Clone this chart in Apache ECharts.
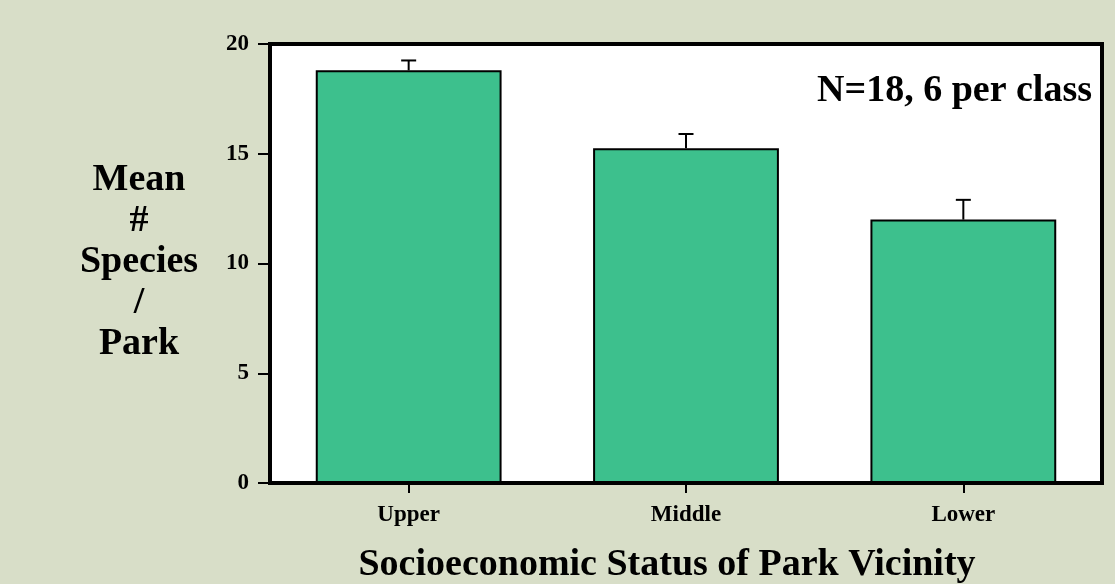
<!DOCTYPE html>
<html>
<head>
<meta charset="utf-8">
<script src="https://cdn.jsdelivr.net/npm/echarts@6/dist/echarts.min.js"></script>
<style>
html,body{margin:0;padding:0;background:#d8dec8;}
#chart{width:1115px;height:584px;}
</style>
</head>
<body>
<div id="chart"></div>
<script>
const categories = ['Upper', 'Middle', 'Lower'];
const meanSpecies = [18.8, 15.25, 12.0];
const errorSE = [0.45, 0.65, 0.9];
const yTicks = [0, 5, 10, 15, 20];

const FONT = '"Liberation Serif", "Times New Roman", serif';
const chart = echarts.init(document.getElementById('chart'));

const errData = categories.map((c, i) => [i, meanSpecies[i], meanSpecies[i] + errorSE[i]]);

chart.setOption({
  backgroundColor: '#d8dec8',
  animation: false,
  grid: {
    left: 270, right: 13, top: 44, bottom: 101,
    show: true, backgroundColor: '#ffffff', borderColor: '#000', borderWidth: 4
  },
  xAxis: {
    type: 'category',
    data: categories,
    axisLine: { show: true, lineStyle: { color: '#000', width: 4 } },
    axisTick: { show: true, alignWithLabel: true, length: 10, lineStyle: { color: '#000', width: 2 } },
    axisLabel: { color: '#000', fontFamily: FONT, fontWeight: 'bold', fontSize: 23, margin: 21 },
    splitLine: { show: false }
  },
  yAxis: {
    type: 'value',
    min: yTicks[0], max: yTicks[yTicks.length - 1], interval: 5,
    axisLine: { show: true, lineStyle: { color: '#000', width: 4 } },
    axisTick: { show: true, length: 12, lineStyle: { color: '#000', width: 2 } },
    axisLabel: { color: '#000', fontFamily: FONT, fontWeight: 'bold', fontSize: 23, margin: 21 },
    splitLine: { show: false }
  },
  series: [
    {
      type: 'bar',
      data: meanSpecies,
      barWidth: '67%',
      itemStyle: { color: '#3dc08d', borderColor: '#000', borderWidth: 2 },
      z: 2
    },
    {
      type: 'custom',
      data: errData,
      z: 3,
      renderItem: function (params, api) {
        const x = api.value(0);
        const p0 = api.coord([x, api.value(1)]);
        const p1 = api.coord([x, api.value(2)]);
        const half = 7.5;
        return {
          type: 'group',
          children: [
            { type: 'line', shape: { x1: p0[0], y1: p0[1], x2: p1[0], y2: p1[1] }, style: { stroke: '#000', lineWidth: 2 } },
            { type: 'line', shape: { x1: p1[0] - half, y1: p1[1], x2: p1[0] + half, y2: p1[1] }, style: { stroke: '#000', lineWidth: 2 } }
          ]
        };
      }
    }
  ],
  graphic: [
    {
      type: 'text', x: 139, y: 262,
      style: {
        text: 'Mean\n#\nSpecies\n/\nPark',
        font: 'bold 38px ' + FONT, fill: '#000',
        align: 'center', verticalAlign: 'middle', lineHeight: 41
      }
    },
    {
      type: 'text', x: 667, y: 565,
      style: {
        text: 'Socioeconomic Status of Park Vicinity',
        font: 'bold 38px ' + FONT, fill: '#000',
        align: 'center', verticalAlign: 'middle'
      }
    },
    {
      type: 'text', x: 1092, y: 91, z: 10,
      style: {
        text: 'N=18, 6 per class',
        font: 'bold 38px ' + FONT, fill: '#000',
        align: 'right', verticalAlign: 'middle'
      }
    }
  ]
});
</script>
</body>
</html>
